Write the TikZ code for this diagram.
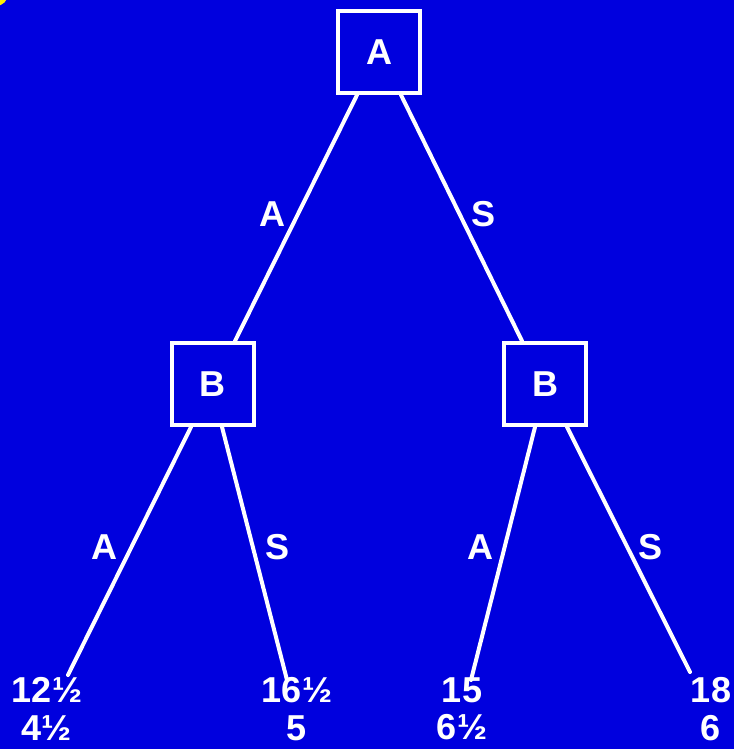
\documentclass[tikz,border=0pt]{standalone}
\usepackage{fontspec}
\setmainfont{Liberation Sans}
\usetikzlibrary{calc}

\definecolor{slideblue}{RGB}{0,0,222}
\definecolor{dotyellow}{RGB}{255,240,0}

\tikzset{
    player/.style={draw=white, line width=0.08cm, minimum size=1.64cm, inner sep=0pt,
        text=white, font=\fontsize{20.5}{24.5}\selectfont\bfseries},
    move/.style={draw=white, line width=0.08cm, line cap=round},
    movelabel/.style={text=white, inner sep=0pt, font=\fontsize{20.5}{24.5}\selectfont\bfseries},
    payoff/.style={text=white, inner sep=0pt, align=center, font=\fontsize{20.5}{24.5}\selectfont\bfseries}
}

\begin{document}
\begin{tikzpicture}[x=0.02cm, y=-0.02cm]
    \fill[slideblue] (0,0) rectangle (734,749);
    \begin{scope}
        \clip (0,0) rectangle (734,749);
        \fill[dotyellow] (-4,-6) circle (12);
    \end{scope}
    \useasboundingbox (0,0) rectangle (734,749);

    \node[player] (rootA) at (379,52) {A};
    \node[player] (leftB) at (213,384) {B};
    \node[player] (rightB) at (545,384) {B};

    \draw[move] ([xshift=-0.44cm]rootA.south) -- ([xshift=0.44cm]leftB.north);
    \draw[move] ([xshift=0.44cm]rootA.south) -- ([xshift=-0.46cm]rightB.north);
    \node[movelabel] (lblAA) at (272,214) {A};
    \node[movelabel] (lblAS) at (484,214) {S};

    \coordinate (endAA) at (68,675);
    \coordinate (endAS) at (287,680);
    \coordinate (endSA) at (471,680);
    \coordinate (endSS) at (690,672);

    \draw[move] ([xshift=-0.44cm]leftB.south) -- (endAA);
    \draw[move] ([xshift=0.18cm]leftB.south) -- (endAS);
    \draw[move] ([xshift=-0.2cm]rightB.south) -- (endSA);
    \draw[move] ([xshift=0.44cm]rightB.south) -- (endSS);

    \node[movelabel] (lblBAA) at (105,547) {A};
    \node[movelabel] (lblBAS) at (278,547) {S};
    \node[movelabel] (lblBSA) at (480,547) {A};
    \node[movelabel] (lblBSS) at (650,547) {S};

    \node[payoff, anchor=north] (payAA) at (47,677) {12½\\[-3pt]4½};
    \node[payoff, anchor=north] (payAS) at (297,677) {16½\\[-3pt]5};
    \node[payoff, anchor=north] (paySA) at (462,677) {15\\[-3pt]6½};
    \node[payoff, anchor=north] (paySS) at (711,677) {18\\[-3pt]6};
\end{tikzpicture}
\end{document}
